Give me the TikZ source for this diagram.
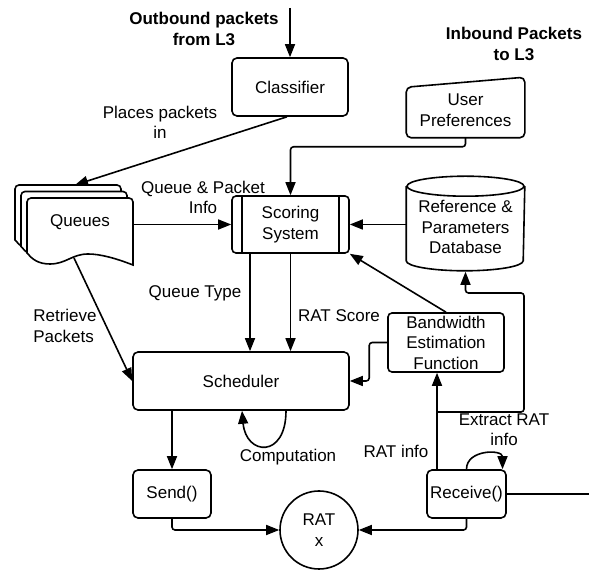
\documentclass[tikz,border=0pt]{standalone}
\usepackage{fontspec}
\setmainfont{Liberation Sans}
\usetikzlibrary{arrows.meta,calc}

\begin{document}
\begin{tikzpicture}[x=1pt, y=1pt, line width=1.6pt,
    font=\fontsize{17}{20.5}\selectfont,
    >={Triangle[length=13pt,width=10pt]},
    box/.style={draw, rounded corners=5pt, inner sep=0pt, align=center},
    blank/.style={inner sep=0pt, align=center},
    lbl/.style={inner sep=1pt, align=center},
    head/.style={lbl, font=\fontsize{17}{20.5}\selectfont\bfseries}]

  \useasboundingbox (0,0) rectangle (589,570);

  % Classifier and the outbound packets
  \node[box, minimum width=116, minimum height=58] (classifier) at (290,483) {Classifier};
  \coordinate (l3out) at (290,562);
  \draw[->] (l3out) -- (classifier.north);
  \node[head] (outlbl) at (204,541) {Outbound packets\\from L3};
  \node[head] (inlbl) at (514,526) {Inbound Packets\\to L3};

  % Queues: three stacked pages
  \foreach \s in {2,1,0} {
    \draw[fill=white, shift={(-6*\s,6.5*\s)}] (27,317) [rounded corners=4pt]-- (27,372) -- (133,372) -- (133,330) [sharp corners]-- (133,305)
      .. controls (115,312) and (100,316) .. (88,316)
      .. controls (72,316) and (66,306) .. (50,306)
      .. controls (38,306) and (32,311) .. (27,317) -- cycle;
  }
  \node[blank] (queues) at (80,348) {Queues};
  \coordinate (qtop) at (75,385);
  \coordinate (qright) at (133,345.5);
  \coordinate (qbot) at (74,312);

  % Scoring system
  \node[box, rounded corners=4pt, minimum width=117, minimum height=57] (scoring) at (290.5,345.5) {Scoring\\System};
  \draw ([xshift=11pt]scoring.north west) -- ([xshift=11pt]scoring.south west);
  \draw ([xshift=-11pt]scoring.north east) -- ([xshift=-11pt]scoring.south east);

  % User preferences
  \node[blank, minimum width=117, minimum height=54] (userpref) at (465.5,460) {User\\Preferences};
  \draw[rounded corners=5pt] (userpref.south west) -- ($(userpref.north west)+(0,-5)$) -- ($(userpref.north east)+(0,5)$) -- (userpref.south east) -- cycle;

  % Database
  \node[blank, minimum width=117, minimum height=88] (db) at (465.5,343) {Reference \&\\Parameters\\Database};
  \draw ($(db.north)+(0,-4)$) ellipse [x radius=58.5, y radius=10];
  \draw ($(db.north west)+(0,-4)$) -- ($(db.south west)+(0,11)$) arc[start angle=180, end angle=360, x radius=58.5, y radius=10] -- ($(db.north east)+(0,-4)$);

  % Lower boxes
  \node[box, rounded corners=4pt, minimum width=116, minimum height=59] (bw) at (446,227.5) {Bandwidth\\Estimation\\Function};
  \node[box, minimum width=216, minimum height=58] (sched) at (241,189) {Scheduler};
  \node[box, minimum width=78, minimum height=48] (send) at (172,76) {Send()};
  \node[box, minimum width=79, minimum height=48] (recv) at (466.5,76) {Receive()};
  \node[draw, circle, minimum size=78, inner sep=0pt, align=center] (rat) at (319,40) {RAT\\x};

  % Connectors
  \draw[->] ([xshift=-3pt]classifier.south) -- (qtop);
  \node[lbl] (places) at (160,447.5) {Places packets\\in};
  \draw[->] (qright) -- (scoring.west);
  \node[lbl] (qpinfo) at (203,372.5) {Queue \& Packet\\Info};
  \draw[->, rounded corners=3pt] (userpref.south) -- ++(0,-9) -| (scoring.north);
  \draw[->] (db.west |- scoring.east) -- (scoring.east);
  \draw[->] (bw.north) -- (scoring.south east);

  \coordinate (qtype) at ([xshift=-40.5pt]scoring.south);
  \draw[->] (qtype) -- (qtype |- sched.north);
  \draw[->] (scoring.south) -- (scoring.south |- sched.north);
  \node[lbl] (qtypelbl) at (195,277) {Queue Type};
  \node[lbl] (ratscore) at (339,254) {RAT Score};

  \draw[->] (qbot) -- (sched.west);
  \node[lbl, align=left] (retrieve) at (65,244) {Retrieve\\Packets};
  \draw[->, rounded corners=3pt] (bw.west) -- ++(-18,0) |- (sched.east);

  \draw[->] (send.north |- sched.south) -- (send.north);
  % computation loop
  \draw[->] ([xshift=45pt]sched.south) .. controls +(0,-48) and +(4,-45) .. ([xshift=1pt]sched.south);
  \node[lbl] (comp) at (288,113) {Computation};

  \draw[->, rounded corners=3pt] (send.south) |- (rat.west);
  \draw[->, rounded corners=3pt] (recv.south) |- (rat.east);

  \coordinate (ratinfo) at ([xshift=-29.5pt]recv.north);
  \draw[->] (ratinfo) -- (ratinfo |- bw.south);
  \node[lbl] (ratinfolbl) at (396,119) {RAT info};
  \coordinate (extract) at (ratinfo |- 0,158);
  \draw[->, rounded corners=3pt] (extract) -- ++(87,0) -- ++(0,119) -| (db.south);
  \node[lbl] (extractlbl) at (504,140.5) {Extract RAT\\info};
  \draw[->] (recv.north) .. controls +(0,20) and +(0,20) .. ([xshift=36pt]recv.north);

  \coordinate (inbound) at (589,76);
  \draw (recv.east) -- (inbound);

\end{tikzpicture}
\end{document}
